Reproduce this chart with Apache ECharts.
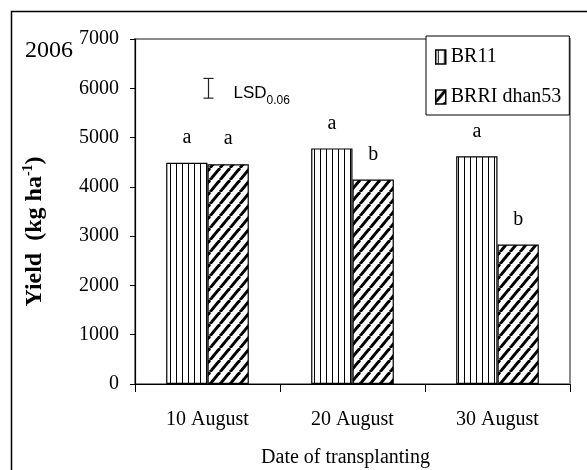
<!DOCTYPE html>
<html>
<head>
<meta charset="utf-8">
<script src="https://cdn.jsdelivr.net/npm/echarts@6/dist/echarts.min.js"></script>
<style>
  html, body { margin: 0; padding: 0; background: #fff; }
  #chart { width: 587px; height: 470px; }
</style>
</head>
<body>
<div id="chart"></div>
<script>
// Grain yield by transplanting date, 2006
const categories = ['10 August', '20 August', '30 August'];
const br11Yield = [4490, 4780, 4620];
const dhan53Yield = [4460, 4150, 2830];
const br11Letters = ['a', 'a', 'a'];
const dhan53Letters = ['a', 'b', 'b'];
// LSD bar: [category index, low, high]
const lsdBar = [[0, 5800, 6200]];
const yMin = 0, yMax = 7000, yStep = 1000;

const SERIF = '"Liberation Serif", "Times New Roman", serif';
const SANS = '"Liberation Sans", Arial, sans-serif';

// fill patterns for the two cultivars
function verticalStripes() {
  const c = document.createElement('canvas');
  c.width = 6; c.height = 6;
  const g = c.getContext('2d');
  g.fillStyle = '#fff'; g.fillRect(0, 0, 6, 6);
  g.fillStyle = '#000'; g.fillRect(2, 0, 1, 6);
  return c;
}
function diagonalStripes() {
  const w = 10, h = 12;
  const c = document.createElement('canvas');
  c.width = w; c.height = h;
  const g = c.getContext('2d');
  g.fillStyle = '#fff'; g.fillRect(0, 0, w, h);
  g.strokeStyle = '#000'; g.lineWidth = 3;
  [-w, 0, w].forEach(function (dx) {
    g.beginPath(); g.moveTo(dx, h); g.lineTo(dx + w, 0); g.stroke();
  });
  return c;
}

const chart = echarts.init(document.getElementById('chart'));

function letterLabel(letters) {
  return {
    show: true, position: 'top', distance: 15,
    fontFamily: SERIF, fontSize: 20, color: '#000',
    formatter: function (p) { return letters[p.dataIndex]; }
  };
}

chart.setOption({
  animation: false,
  backgroundColor: '#fff',
  grid: {
    left: 135, top: 39, right: 17, bottom: 86,
    outerBoundsMode: 'none',
    show: true, borderColor: '#8a8a8a', borderWidth: 2, backgroundColor: 'transparent'
  },
  graphic: [
    { type: 'rect', shape: { x: 11.5, y: 11.5, width: 700, height: 700 },
      style: { fill: 'none', stroke: '#000', lineWidth: 1.5 }, z: 100 },
    { type: 'text', left: 25, top: 39,
      style: { text: '2006', fontFamily: SERIF, fontSize: 24, fill: '#000' } }
  ],
  legend: {
    data: ['BR11', 'BRRI dhan53'],
    orient: 'vertical', left: 426, top: 36,
    backgroundColor: '#fff', borderColor: '#000', borderWidth: 1,
    padding: [11, 8, 8, 9],
    itemWidth: 10, itemHeight: 14, itemGap: 20,
    icon: 'rect',
    itemStyle: { borderColor: '#000', borderWidth: 1.5 },
    textStyle: { fontFamily: SERIF, fontSize: 20, color: '#000' },
    z: 10
  },
  xAxis: {
    type: 'category',
    data: categories,
    name: 'Date of transplanting',
    nameLocation: 'middle',
    nameGap: 64,
    nameTextStyle: { fontFamily: SERIF, fontSize: 20, color: '#000', padding: [0, 14, 0, 0] },
    axisLine: { lineStyle: { color: '#000', width: 1.2 } },
    axisTick: { show: true, alignWithLabel: false, length: 8, lineStyle: { color: '#000' } },
    axisLabel: { fontFamily: SERIF, fontSize: 20, color: '#000', margin: 26 }
  },
  yAxis: {
    type: 'value',
    min: yMin, max: yMax, interval: yStep,
    name: '{t|Yield  (kg ha}{s|-1}{t|)}',
    nameLocation: 'middle',
    nameGap: 86,
    nameTextStyle: {
      padding: [0, 40, 0, 0],
      rich: {
        t: { fontFamily: SERIF, fontSize: 24, fontWeight: 'bold', color: '#000', lineHeight: 28 },
        s: { fontFamily: SERIF, fontSize: 14, fontWeight: 'bold', color: '#000', verticalAlign: 'top', lineHeight: 28 }
      }
    },
    axisLine: { show: true, lineStyle: { color: '#000', width: 1.2 } },
    axisTick: { show: true, length: 5, lineStyle: { color: '#000' } },
    axisLabel: {
      fontFamily: SERIF, fontSize: 20, color: '#000', margin: 16,
      formatter: function (v) { return String(v); }
    },
    splitLine: { show: false }
  },
  series: [
    {
      name: 'BR11', type: 'bar', data: br11Yield,
      barGap: '0%', barCategoryGap: '43%',
      itemStyle: { color: { image: verticalStripes(), repeat: 'repeat' }, borderColor: '#000', borderWidth: 1.2 },
      label: letterLabel(br11Letters)
    },
    {
      name: 'BRRI dhan53', type: 'bar', data: dhan53Yield,
      barGap: '0%', barCategoryGap: '43%',
      itemStyle: { color: { image: diagonalStripes(), repeat: 'repeat' }, borderColor: '#000', borderWidth: 1.2 },
      label: letterLabel(dhan53Letters)
    },
    {
      name: 'LSD', type: 'custom', data: lsdBar,
      encode: { x: 0, y: [1, 2] },
      renderItem: function (params, api) {
        const hi = api.coord([api.value(0), api.value(2)]);
        const lo = api.coord([api.value(0), api.value(1)]);
        const x = Math.round(hi[0]) + 0.5;
        const mid = (hi[1] + lo[1]) / 2;
        const ls = { stroke: '#222', lineWidth: 1.2 };
        return {
          type: 'group',
          children: [
            { type: 'line', shape: { x1: x, y1: hi[1], x2: x, y2: lo[1] }, style: ls },
            { type: 'line', shape: { x1: x - 5, y1: hi[1], x2: x + 5, y2: hi[1] }, style: ls },
            { type: 'line', shape: { x1: x - 5, y1: lo[1], x2: x + 5, y2: lo[1] }, style: ls },
            { type: 'text', style: { text: 'LSD', x: x + 25, y: mid + 5, fontFamily: SANS, fontSize: 17, fill: '#000', align: 'left', verticalAlign: 'middle' } },
            { type: 'text', style: { text: '0.06', x: x + 58, y: mid + 12, fontFamily: SANS, fontSize: 12, fill: '#000', align: 'left', verticalAlign: 'middle' } }
          ]
        };
      },
      z: 5
    }
  ]
});
</script>
</body>
</html>
